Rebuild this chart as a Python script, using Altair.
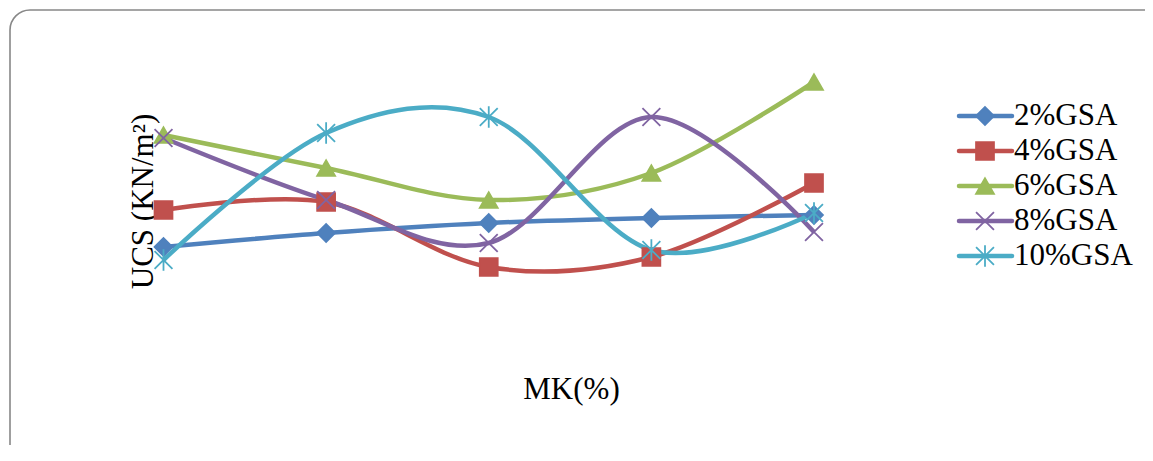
import altair as alt
import pandas as pd

# ---- data ----
mk = [2, 4, 6, 8, 10]
series = ["2%GSA", "4%GSA", "6%GSA", "8%GSA", "10%GSA"]
ucs_2 = [103, 117, 127, 132, 135]
ucs_4 = [140, 148, 83, 93, 167]
ucs_6 = [215, 182, 150, 177, 268]
ucs_8 = [212, 150, 107, 233, 118]
ucs_10 = [90, 217, 233, 100, 137]

colors = ["#4F81BD", "#C0504D", "#9BBB59", "#8064A2", "#4BACC6"]
shapes = ["diamond", "square", "triangle-up",
          "M-1,-1L1,1M1,-1L-1,1",
          "M-1,-1L1,1M1,-1L-1,1M0,-1.2L0,1.2"]

values = [ucs_2, ucs_4, ucs_6, ucs_8, ucs_10]
rows = []
for s, vals in zip(series, values):
    for m, v in zip(mk, vals):
        rows.append({"series": s, "mk": m, "ucs": v})
df = pd.DataFrame(rows)
leg = pd.DataFrame({"series": series, "idx": list(range(len(series)))})

FONT = "Liberation Serif"
FS = 31
W, H = 1137, 437

col_scale = alt.Scale(domain=series, range=colors)
shape_scale = alt.Scale(domain=series, range=shapes)
xs = alt.Scale(domain=[2, 10], range=[155.5, 806], nice=False, zero=False)
ys = alt.Scale(domain=[0, 300], range=[342, 42], nice=False, zero=False)
ls = alt.Scale(domain=[0, 4], range=[108, 248], nice=False, zero=False)

frame = alt.Chart(pd.DataFrame({"a": [0]})).mark_rect(
    fill="white", fillOpacity=0, stroke="#888888", strokeWidth=1.6,
    cornerRadius=20, clip=True
).encode(
    x=alt.value(2), x2=alt.value(1160), y=alt.value(2), y2=alt.value(465)
)

base = alt.Chart(df)
lines = base.mark_line(interpolate="cardinal", strokeWidth=4.5).encode(
    x=alt.X("mk:Q", scale=xs, axis=alt.Axis(
        title="MK(%)", labels=False, ticks=False, domain=False, grid=False,
        titleFont=FONT, titleFontSize=FS, titleFontWeight="normal", titleColor="black",
        titleX=563, titleY=390 - H, titleBaseline="alphabetic", titleAlign="center")),
    y=alt.Y("ucs:Q", scale=ys, axis=alt.Axis(
        title="UCS (KN/m²)", labels=False, ticks=False, domain=False, grid=False,
        titleFont=FONT, titleFontSize=FS, titleFontWeight="normal", titleColor="black",
        titleX=135, titleY=193, titleAngle=270, titleBaseline="middle", titleAlign="center")),
    stroke=alt.Stroke("series:N", scale=col_scale, legend=None),
    detail="series:N",
)

points = base.mark_point(filled=True, size=320, strokeWidth=1.8, opacity=1).encode(
    x=alt.X("mk:Q", scale=xs),
    y=alt.Y("ucs:Q", scale=ys, axis=None),
    fill=alt.Fill("series:N", scale=col_scale, legend=None),
    stroke=alt.Stroke("series:N", scale=col_scale, legend=None),
    shape=alt.Shape("series:N", scale=shape_scale, legend=None),
)

lbase = alt.Chart(leg)
leg_rule = lbase.mark_rule(strokeWidth=4.5, strokeCap="round").encode(
    x=alt.value(951), x2=alt.value(1004),
    y=alt.Y("idx:Q", scale=ls, axis=None),
    color=alt.Color("series:N", scale=col_scale, legend=None),
)
leg_pt = lbase.mark_point(filled=True, size=320, strokeWidth=1.8, opacity=1).encode(
    x=alt.value(977),
    y=alt.Y("idx:Q", scale=ls, axis=None),
    fill=alt.Fill("series:N", scale=col_scale, legend=None),
    stroke=alt.Stroke("series:N", scale=col_scale, legend=None),
    shape=alt.Shape("series:N", scale=shape_scale, legend=None),
)
leg_txt = lbase.mark_text(align="left", baseline="middle", font=FONT, fontSize=FS,
                          color="black").encode(
    x=alt.value(1006),
    y=alt.Y("idx:Q", scale=ls, axis=None),
    text="series:N",
)

chart = alt.layer(frame, lines, points, leg_rule, leg_pt, leg_txt).resolve_scale(
    y="independent"
).properties(
    width=W, height=H, padding=0, autosize=alt.AutoSizeParams(type="none"),
    background="white"
).configure_view(stroke="transparent")

chart.save("out.html", embed_options={"renderer": "svg", "actions": False})
